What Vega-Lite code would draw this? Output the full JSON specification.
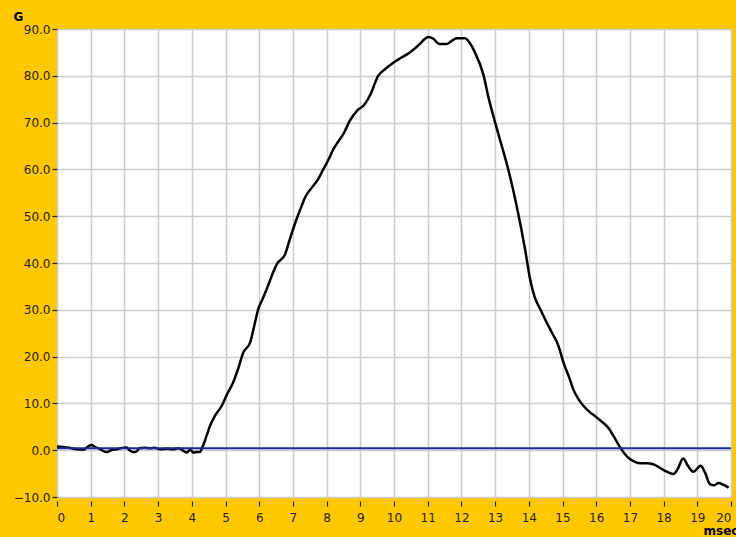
{
  "$schema": "https://vega.github.io/schema/vega-lite/v6.json",
  "width": 674,
  "height": 468,
  "autosize": {"type": "none"},
  "padding": {"left": 57, "top": 29, "right": 5, "bottom": 40},
  "background": "#ffc800",
  "config": {
    "view": {"fill": "white", "stroke": null},
    "axis": {
      "grid": true,
      "gridColor": "#cccccc",
      "gridWidth": 1.5,
      "domain": false,
      "tickColor": "#222222",
      "tickWidth": 1.2,
      "labelFont": "DejaVu Sans",
      "labelFontSize": 12,
      "labelColor": "#2a2400",
      "titleFont": "DejaVu Sans",
      "titleFontWeight": "bold",
      "titleFontSize": 12,
      "titleColor": "#000000"
    }
  },
  "layer": [
    {
      "data": {"values": [
        {"t":0.0,"g":0.8},{"t":0.3,"g":0.6},{"t":0.58,"g":0.2},{"t":0.78,"g":0.1},{"t":0.95,"g":0.9},
        {"t":1.03,"g":1.1},{"t":1.12,"g":0.7},{"t":1.23,"g":0.4},{"t":1.47,"g":-0.4},{"t":1.6,"g":0.0},
        {"t":1.77,"g":0.2},{"t":1.95,"g":0.5},{"t":2.07,"g":0.6},{"t":2.15,"g":0.0},{"t":2.26,"g":-0.4},
        {"t":2.36,"g":-0.3},{"t":2.44,"g":0.4},{"t":2.6,"g":0.5},{"t":2.76,"g":0.4},{"t":2.9,"g":0.5},
        {"t":3.06,"g":0.2},{"t":3.25,"g":0.3},{"t":3.45,"g":0.2},{"t":3.6,"g":0.4},{"t":3.7,"g":0.1},
        {"t":3.85,"g":-0.5},{"t":3.95,"g":0.1},{"t":4.05,"g":-0.5},{"t":4.15,"g":-0.4},{"t":4.24,"g":-0.4},
        {"t":4.3,"g":0.4},{"t":4.44,"g":3.1},{"t":4.54,"g":5.2},{"t":4.7,"g":7.5},{"t":4.89,"g":9.5},
        {"t":5.05,"g":12},{"t":5.23,"g":14.5},{"t":5.38,"g":17.5},{"t":5.53,"g":20.9},{"t":5.73,"g":23},
        {"t":5.85,"g":26.5},{"t":5.97,"g":30.1},{"t":6.1,"g":32.3},{"t":6.22,"g":34.4},{"t":6.37,"g":37.2},
        {"t":6.52,"g":39.7},{"t":6.77,"g":41.9},{"t":6.91,"g":45.1},{"t":7.11,"g":49.4},{"t":7.25,"g":52},
        {"t":7.36,"g":54},{"t":7.55,"g":56},{"t":7.75,"g":57.9},{"t":7.9,"g":60},{"t":8.05,"g":62},
        {"t":8.2,"g":64.3},{"t":8.35,"g":66},{"t":8.5,"g":67.6},{"t":8.69,"g":70.4},{"t":8.9,"g":72.5},
        {"t":9.13,"g":73.9},{"t":9.3,"g":76},{"t":9.53,"g":80},{"t":9.75,"g":81.5},{"t":9.98,"g":82.8},
        {"t":10.2,"g":83.8},{"t":10.47,"g":85},{"t":10.77,"g":86.8},{"t":10.9,"g":87.8},{"t":11.02,"g":88.3},
        {"t":11.15,"g":88},{"t":11.35,"g":86.8},{"t":11.56,"g":86.8},{"t":11.7,"g":87.4},{"t":11.86,"g":88},
        {"t":12.1,"g":88},{"t":12.25,"g":87},{"t":12.4,"g":85},{"t":12.65,"g":80.3},{"t":12.8,"g":75.5},
        {"t":13.1,"g":67.5},{"t":13.39,"g":60},{"t":13.64,"g":52.2},{"t":13.89,"g":42.9},{"t":14.04,"g":36.5},
        {"t":14.18,"g":32.6},{"t":14.35,"g":30},{"t":14.53,"g":27.3},{"t":14.68,"g":25.2},{"t":14.88,"g":22.3},
        {"t":15.03,"g":18.7},{"t":15.2,"g":15.5},{"t":15.32,"g":13},{"t":15.45,"g":11.2},{"t":15.62,"g":9.5},
        {"t":15.8,"g":8.2},{"t":15.96,"g":7.3},{"t":16.15,"g":6.2},{"t":16.36,"g":4.8},{"t":16.5,"g":3.2},
        {"t":16.71,"g":0.6},{"t":16.85,"g":-0.8},{"t":17.0,"g":-1.9},{"t":17.15,"g":-2.5},{"t":17.3,"g":-2.8},
        {"t":17.5,"g":-2.8},{"t":17.69,"g":-3.0},{"t":17.9,"g":-3.8},{"t":18.09,"g":-4.6},{"t":18.29,"g":-5.1},
        {"t":18.42,"g":-4.0},{"t":18.58,"g":-1.8},{"t":18.72,"g":-3.3},{"t":18.88,"g":-4.6},{"t":19.1,"g":-3.3},
        {"t":19.23,"g":-4.8},{"t":19.38,"g":-7.3},{"t":19.5,"g":-7.5},{"t":19.63,"g":-7.0},{"t":19.78,"g":-7.4},
        {"t":19.93,"g":-8.0}
      ]},
      "mark": {"type": "line", "color": "#000000", "strokeWidth": 2.5, "strokeJoin": "round", "interpolate": "monotone"},
      "encoding": {
        "x": {
          "field": "t", "type": "quantitative",
          "scale": {"domain": [0, 20], "nice": false, "zero": false},
          "axis": {
            "values": [0,1,2,3,4,5,6,7,8,9,10,11,12,13,14,15,16,17,18,19,20],
            "offset": 4, "tickSize": 5, "labelPadding": 6,
            "title": "msec", "titleX": 646, "titleY": 33, "titleAlign": "left",
            "titleBaseline": "alphabetic", "titleAngle": 0
          }
        },
        "y": {
          "field": "g", "type": "quantitative",
          "scale": {"domain": [-10, 90], "nice": false, "zero": false},
          "axis": {
            "values": [-10,0,10,20,30,40,50,60,70,80,90],
            "format": ".1f", "tickSize": 5, "labelPadding": 2,
            "title": "G", "titleX": -44, "titleY": -9, "titleAngle": 0,
            "titleAlign": "left", "titleBaseline": "alphabetic"
          }
        }
      }
    },
    {
      "data": {"values": [{"level": 0.4}]},
      "mark": {"type": "rule", "color": "#1a2aa0", "strokeWidth": 2},
      "encoding": {
        "y": {"field": "level", "type": "quantitative"}
      }
    }
  ]
}
